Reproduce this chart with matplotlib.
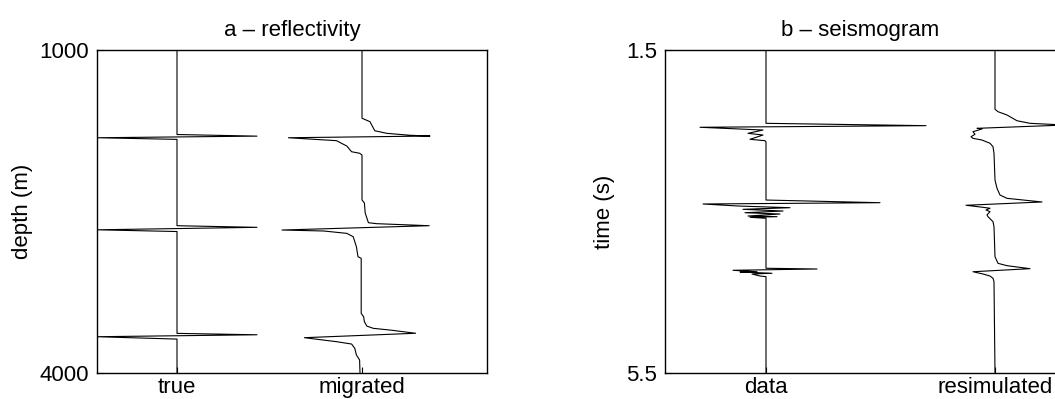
import matplotlib
matplotlib.use("Agg")
import matplotlib.pyplot as plt

plt.rcParams['font.family'] = ['Liberation Sans', 'DejaVu Sans']
plt.rcParams['font.size'] = 16

# --- panel a: reflectivity vs depth (m); amplitude relative to trace baseline
true_depth = [1000, 1785, 1800, 1815, 1830, 2632, 2647, 2670, 2686, 3632, 3645, 3663, 3685, 4000]
true_amp = [0, 0, 1.0, -1.0, 0, 0, 1.0, -1.0, 0, 0, 1.0, -1.0, 0, 0]

mig_depth = [1000, 1634, 1666, 1681, 1750, 1774, 1792, 1799, 1815, 1842, 1892, 1945,
             1959, 1975, 2393, 2421, 2514, 2604, 2613, 2632, 2672, 2681, 2703, 2734,
             2827, 2920, 2935, 3446, 3477, 3524, 3564, 3585, 3601, 3631, 3672, 3709,
             3731, 3771, 3833, 3879, 4000]
mig_amp = [0, 0, 0.10, 0.11, 0.16, 0.31, 0.60, 0.85, -0.92, -0.32, -0.19, -0.13,
           -0.03, 0, 0, 0.03, 0.04, 0.08, 0.18, 0.84, -1.0, -0.48, -0.19, -0.11,
           -0.07, -0.05, -0.01, -0.01, 0.02, 0.03, 0.06, 0.14, 0.35, 0.67, -0.72, -0.32,
           -0.13, -0.09, -0.07, -0.03, -0.025]

# --- panel b: seismogram vs time (s)
data_time = [1.5, 2.408, 2.437, 2.457, 2.491, 2.532, 2.553, 2.606, 2.623, 2.639,
             3.358, 3.391, 3.407, 3.432, 3.453, 3.473, 3.494, 3.515, 3.531, 3.556,
             3.564, 3.572, 3.584, 4.203, 4.212, 4.228, 4.246, 4.249, 4.265, 4.274,
             4.299, 4.307, 5.5]
data_amp = [0, 0, 1.60, -0.66, -0.03, -0.18, -0.03, -0.16, -0.01, 0,
            0, 1.14, -0.63, -0.28, 0.24, -0.23, 0.17, -0.21, 0.14, -0.18,
            0.11, -0.16, 0, 0, 0.51, -0.33, -0.09, -0.26, 0.06, -0.14,
            -0.06, 0, 0]

resim_time = [1.5, 2.234, 2.264, 2.305, 2.376, 2.408, 2.429, 2.470, 2.478, 2.512,
              2.544, 2.574, 2.594, 2.615, 2.655, 2.698, 2.779, 3.110, 3.213, 3.296,
              3.337, 3.382, 3.423, 3.448, 3.460, 3.481, 3.502, 3.543, 3.564, 3.626,
              3.688, 4.060, 4.142, 4.171, 4.208, 4.246, 4.274, 4.299, 4.327, 4.369, 5.5]
resim_amp = [0, 0, 0.03, 0.12, 0.22, 0.35, 0.70, -0.18, -0.13, -0.22,
             -0.20, -0.24, -0.22, -0.13, -0.05, -0.02, -0.01, 0, 0.02, 0.05,
             0.12, 0.47, -0.29, -0.12, -0.05, -0.09, -0.05, -0.08, -0.07, -0.02,
             -0.01, 0, 0.03, 0.12, 0.35, -0.22, -0.12, -0.05, -0.02, -0.01, 0]

a_labels = ['true', 'migrated']
a_offsets = [0, 2.3125]
b_labels = ['data', 'resimulated']
b_offsets = [0, 2.29]

fig = plt.figure(figsize=(10.55, 3.99), dpi=100)
ax1 = fig.add_axes([97 / 1055, 26 / 399, 390 / 1055, 323 / 399])
ax2 = fig.add_axes([665 / 1055, 26 / 399, 390 / 1055, 323 / 399])

lw = 0.8
ax1.plot([a_offsets[0] + v for v in true_amp], true_depth, color='black', lw=lw)
ax1.plot([a_offsets[1] + v for v in mig_amp], mig_depth, color='black', lw=lw)
ax1.set_xlim(-1.0, 3.875)
ax1.set_ylim(4000, 1000)
ax1.set_yticks([1000, 4000])
ax1.set_xticks(a_offsets)
ax1.set_xticklabels(a_labels)
ax1.set_ylabel('depth (m)')
ax1.yaxis.set_label_coords(-0.164, 0.5)
ax1.set_title('a \u2013 reflectivity', pad=10, fontsize=16)

ax2.plot([b_offsets[0] + v for v in data_amp], data_time, color='black', lw=lw)
ax2.plot([b_offsets[1] + v for v in resim_amp], resim_time, color='black', lw=lw)
ax2.set_xlim(-1.01, 2.89)
ax2.set_ylim(5.5, 1.5)
ax2.set_yticks([1.5, 5.5])
ax2.set_xticks(b_offsets)
ax2.set_xticklabels(b_labels)
ax2.set_ylabel('time (s)')
ax2.yaxis.set_label_coords(-0.128, 0.5)
ax2.set_title('b \u2013 seismogram', pad=10, fontsize=16)
ax2.spines['right'].set_visible(False)

for ax in (ax1, ax2):
    ax.tick_params(axis='x', direction='in', length=4, width=0.8, pad=3)
    ax.tick_params(axis='y', direction='in', length=4, width=0.8, pad=5.5)
    for s in ax.spines.values():
        s.set_linewidth(1.0)

fig.savefig('out.png', dpi=100)
